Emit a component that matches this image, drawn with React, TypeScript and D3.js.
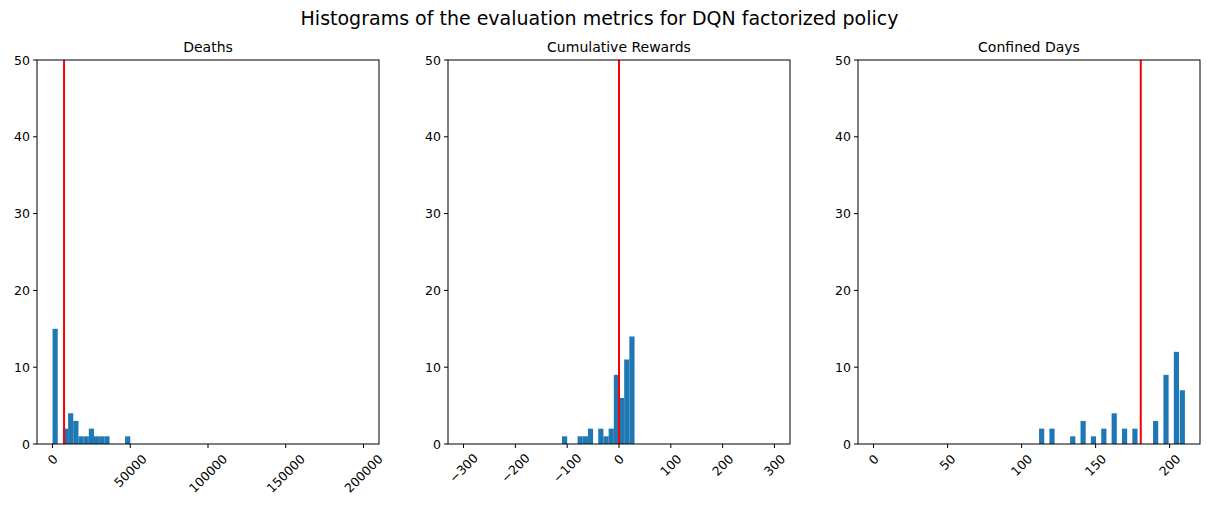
import React from 'react';
import * as d3 from 'd3';

// histogram counts per bin (60 bins over each range)
const deathsBins = [0, 2, 3, 4, 5, 6, 7, 8, 9, 10, 14];
const deathsCounts = [15, 2, 4, 3, 1, 1, 2, 1, 1, 1, 1];
const rewardsBins = [19, 22, 23, 24, 26, 27, 28, 29, 30, 31, 32];
const rewardsCounts = [1, 1, 1, 2, 2, 1, 2, 9, 6, 11, 14];
const daysBins = [32, 34, 38, 40, 42, 44, 46, 48, 50, 54, 56, 58, 59];
const daysCounts = [2, 2, 1, 3, 1, 2, 4, 2, 2, 3, 9, 12, 7];
const daysValues = [112, 119, 133, 140, 147, 154, 161, 168, 175, 189, 196, 203, 207];

const deathsTicks = [0, 50000, 100000, 150000, 200000];
const rewardsTicks = [-300, -200, -100, 0, 100, 200, 300];
const daysTicks = [0, 50, 100, 150, 200];
const yTicks = [0, 10, 20, 30, 40, 50];

const panels = [
  { title: 'Deaths', lo: 0, hi: 200000, bins: deathsBins, counts: deathsCounts, ticks: deathsTicks, mean: 7400, barW: 1 },
  { title: 'Cumulative Rewards', lo: -300, hi: 300, bins: rewardsBins, counts: rewardsCounts, ticks: rewardsTicks, mean: 0, barW: 1 },
  { title: 'Confined Days', lo: 0, hi: 210, bins: daysBins, counts: daysCounts, ticks: daysTicks, mean: 180.5, barW: 1 },
];

const W = 1209, H = 511;
const axLefts = [37, 448, 858];
const axW = 342, top = 60, bottom = 444;
const font = 'DejaVu Sans, sans-serif';

const fmt = (v: number) => (v < 0 ? '\u2212' + Math.abs(v) : String(v));

export default function App() {
  const y = d3.scaleLinear().domain([0, 50]).range([bottom, top]);
  return (
    <svg width={W} height={H} style={{ position: 'absolute', left: 0, top: 0, background: '#fff' }} fontFamily={font}>
      <text x={W / 2 - 5} y={25} fontSize={19} textAnchor="middle">Histograms of the evaluation metrics for DQN factorized policy</text>
      {panels.map((p, pi) => {
        const left = axLefts[pi];
        const span = p.hi - p.lo;
        const x = d3.scaleLinear().domain([p.lo - span * 0.05, p.hi + span * 0.05]).range([left, left + axW]);
        const bw = span / 60;
        return (
          <g key={pi}>
            <text x={left + axW / 2} y={52} fontSize={14} textAnchor="middle">{p.title}</text>
            {p.bins.map((b, i) => {
              const x0 = pi === 2 ? daysValues[i] - 0.2 : p.lo + b * bw;
              const x1 = pi === 2 ? x0 + bw : p.lo + (b + 1) * bw;
              return (
                <rect key={i} x={x(x0)} y={y(p.counts[i])} width={x(x1) - x(x0)} height={bottom - y(p.counts[i])} fill="#1f77b4" />
              );
            })}
            <line x1={x(p.mean)} x2={x(p.mean)} y1={top} y2={bottom} stroke="red" strokeWidth={2} />
            <rect x={left} y={top} width={axW} height={bottom - top} fill="none" stroke="#000" strokeWidth={1} />
            {yTicks.map(t => (
              <g key={t}>
                <line x1={left - 4} x2={left} y1={y(t)} y2={y(t)} stroke="#000" />
                <text x={left - 7} y={y(t) + 4.5} fontSize={12.5} textAnchor="end">{t}</text>
              </g>
            ))}
            {p.ticks.map(t => {
              const s = fmt(t);
              const w = s.length * 8;
              const cy = bottom + 8 + (w * 0.707 + 13 * 0.707) / 2;
              return (
                <g key={t}>
                  <line x1={x(t)} x2={x(t)} y1={bottom} y2={bottom + 4} stroke="#000" />
                  <text x={x(t)} y={cy} fontSize={12.5} textAnchor="middle" dominantBaseline="central"
                    transform={`rotate(-45 ${x(t)} ${cy})`}>{s}</text>
                </g>
              );
            })}
          </g>
        );
      })}
    </svg>
  );
}
